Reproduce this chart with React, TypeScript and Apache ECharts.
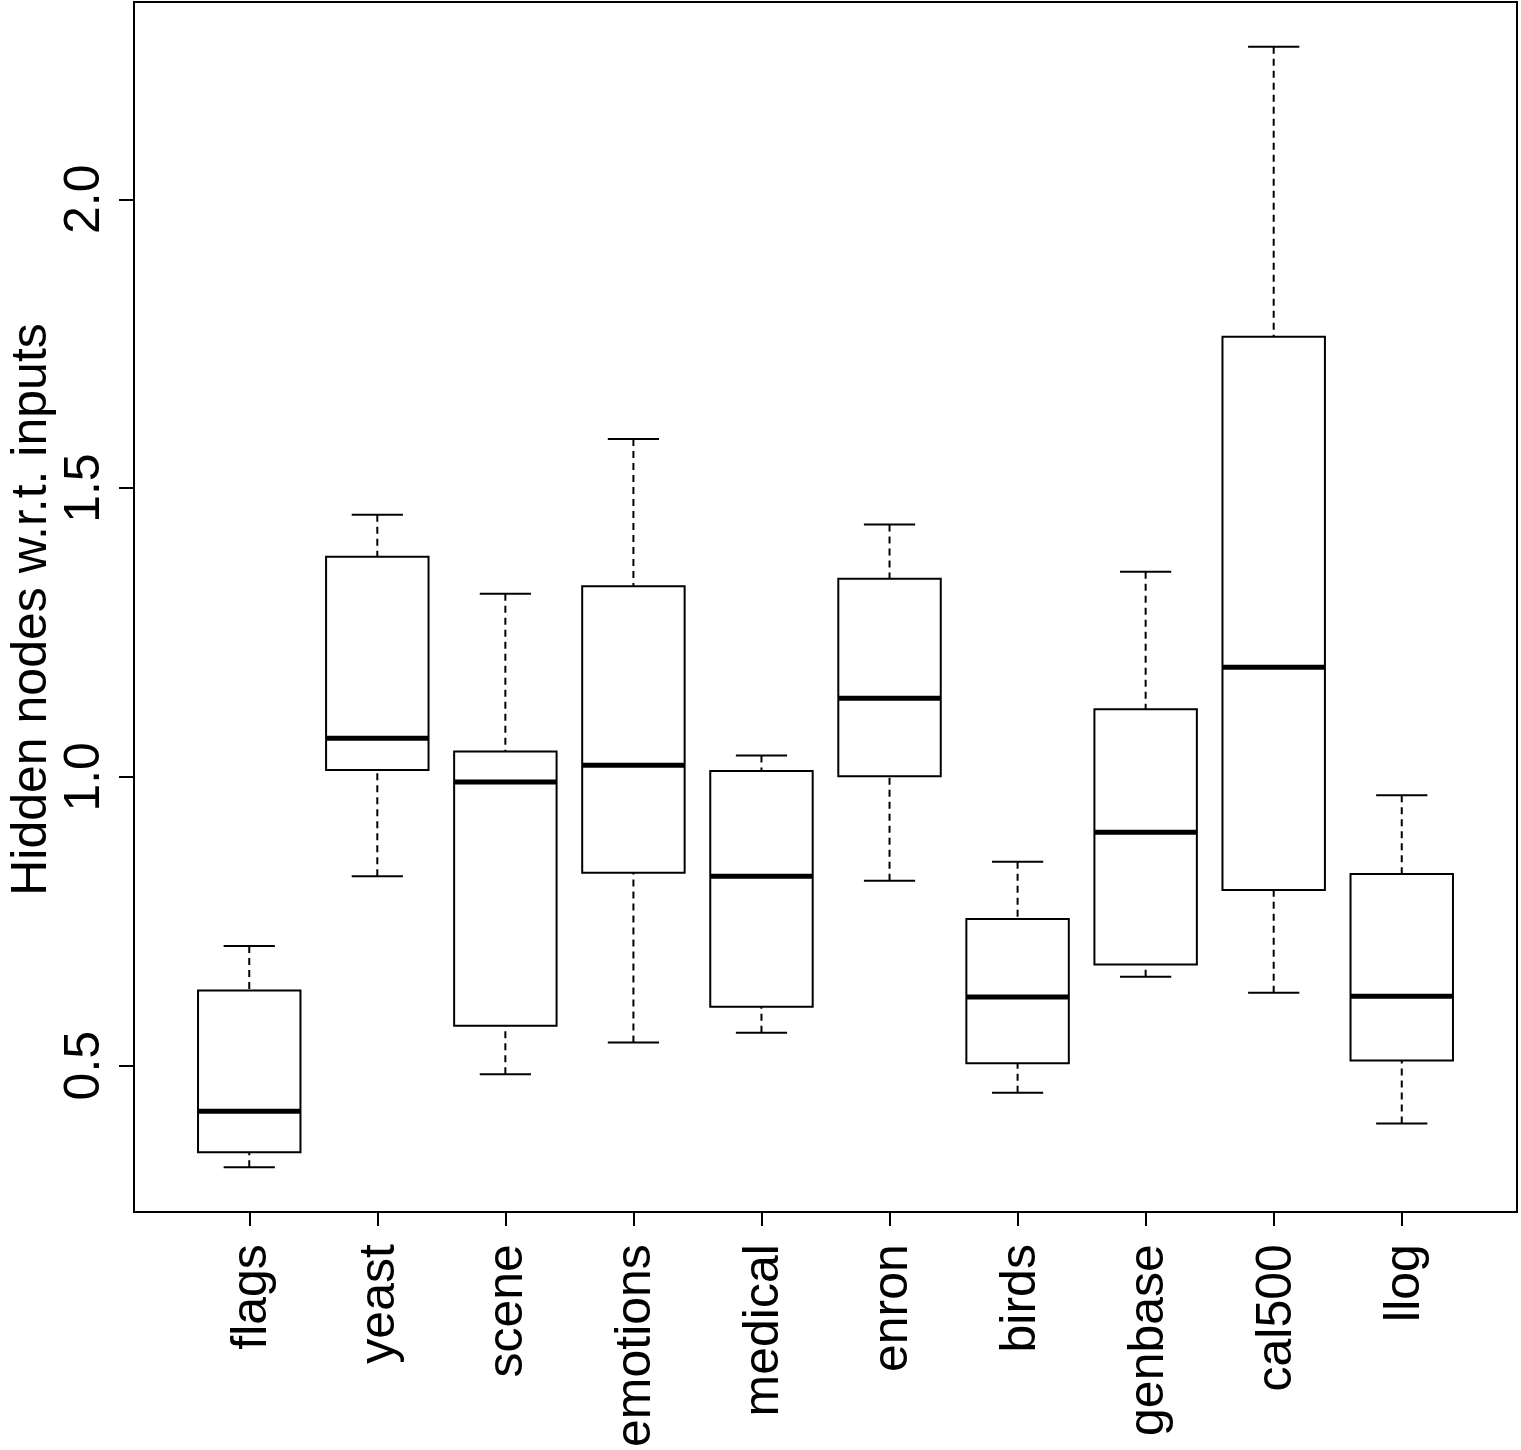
import React, { useEffect, useRef } from "react";
import * as echarts from "echarts";

// Hidden-node ratio per multi-label dataset: five-number summaries
const datasets = ["flags", "yeast", "scene", "emotions", "medical", "enron", "birds", "genbase", "cal500", "llog"];
const whiskerLow = [0.324, 0.828, 0.485, 0.540, 0.557, 0.820, 0.453, 0.654, 0.626, 0.400];
const hingeLow = [0.350, 1.012, 0.569, 0.834, 0.602, 1.001, 0.504, 0.675, 0.804, 0.509];
const medians = [0.421, 1.067, 0.991, 1.020, 0.828, 1.136, 0.619, 0.904, 1.190, 0.620];
const hingeHigh = [0.630, 1.381, 1.044, 1.330, 1.010, 1.343, 0.754, 1.117, 1.762, 0.832];
const whiskerHigh = [0.707, 1.454, 1.317, 1.585, 1.037, 1.437, 0.853, 1.355, 2.264, 0.968];
const yTicks = [0.5, 1.0, 1.5, 2.0];
const yTitle = "Hidden nodes w.r.t. inputs";

const FONT = "'Liberation Sans', Arial, Helvetica, sans-serif";
const FONT_SIZE = 50;

// pad a range by 4% on each side, like the usual statistical plotting default
function padRange(lo: number, hi: number): [number, number] {
  const d = (hi - lo) * 0.04;
  return [lo - d, hi + d];
}

export default function App() {
  const ref = useRef<HTMLDivElement>(null);

  useEffect(() => {
    if (!ref.current) return;
    const chart = echarts.init(ref.current, null, { renderer: "svg" });

    const n = datasets.length;
    const [yMin, yMax] = padRange(Math.min(...whiskerLow), Math.max(...whiskerHigh));
    const [xMin, xMax] = padRange(0.5, n + 0.5);
    const positions = datasets.map((_, i) => i + 1);

    const data = datasets.map((_, i) => [
      i + 1,
      whiskerLow[i],
      hingeLow[i],
      medians[i],
      hingeHigh[i],
      whiskerHigh[i],
    ]);

    const black = "#000";

    const option: any = {
      animation: false,
      backgroundColor: "#fff",
      textStyle: { fontFamily: FONT },
      grid: {
        left: 134,
        right: 4,
        top: 2,
        bottom: 233,
        show: true,
        borderColor: black,
        borderWidth: 2,
        backgroundColor: "transparent",
      },
      xAxis: {
        type: "value",
        min: xMin,
        max: xMax,
        axisLine: { show: false },
        splitLine: { show: false },
        axisTick: {
          show: true,
          inside: false,
          length: 14,
          customValues: positions,
          lineStyle: { color: black, width: 2 },
        },
        axisLabel: {
          show: true,
          rotate: 90,
          margin: 32,
          customValues: positions,
          formatter: (v: number) => datasets[Math.round(v) - 1] ?? "",
          color: black,
          fontSize: FONT_SIZE,
          fontFamily: FONT,
        },
      },
      yAxis: {
        type: "value",
        min: yMin,
        max: yMax,
        axisLine: { show: false },
        splitLine: { show: false },
        axisTick: {
          show: true,
          inside: false,
          length: 15,
          customValues: yTicks,
          lineStyle: { color: black, width: 2 },
        },
        axisLabel: {
          show: true,
          rotate: 90,
          margin: 27,
          customValues: yTicks,
          formatter: (v: number) => v.toFixed(1),
          color: black,
          fontSize: FONT_SIZE,
          fontFamily: FONT,
        },
      },
      graphic: [
        {
          type: "text",
          x: 29,
          y: 609.5,
          rotation: Math.PI / 2,
          style: {
            text: yTitle,
            fontSize: FONT_SIZE,
            fontFamily: FONT,
            fill: black,
            align: "center",
            verticalAlign: "middle",
          },
        },
      ],
      series: [
        {
          type: "custom",
          data,
          encode: { x: 0, y: [1, 2, 3, 4, 5] },
          renderItem: (_params: any, api: any) => {
            const x = api.value(0);
            const pLow = api.coord([x, api.value(1)]);
            const pQ1 = api.coord([x, api.value(2)]);
            const pMed = api.coord([x, api.value(3)]);
            const pQ3 = api.coord([x, api.value(4)]);
            const pHigh = api.coord([x, api.value(5)]);
            const unit = api.size([1, 0])[0];
            const halfBox = unit * 0.4;
            const halfCap = unit * 0.2;
            const cx = pLow[0];
            const solid = { stroke: black, lineWidth: 2, fill: "none" };
            const dashed = { stroke: black, lineWidth: 2, lineDash: [7, 5], fill: "none" };
            return {
              type: "group",
              children: [
                // whiskers
                { type: "line", shape: { x1: cx, y1: pHigh[1], x2: cx, y2: pQ3[1] }, style: dashed },
                { type: "line", shape: { x1: cx, y1: pLow[1], x2: cx, y2: pQ1[1] }, style: dashed },
                // staples
                { type: "line", shape: { x1: cx - halfCap, y1: pHigh[1], x2: cx + halfCap, y2: pHigh[1] }, style: solid },
                { type: "line", shape: { x1: cx - halfCap, y1: pLow[1], x2: cx + halfCap, y2: pLow[1] }, style: solid },
                // box
                {
                  type: "rect",
                  shape: { x: cx - halfBox, y: pQ3[1], width: halfBox * 2, height: pQ1[1] - pQ3[1] },
                  style: { stroke: black, lineWidth: 2, fill: "#fff" },
                },
                // median
                {
                  type: "line",
                  shape: { x1: cx - halfBox, y1: pMed[1], x2: cx + halfBox, y2: pMed[1] },
                  style: { stroke: black, lineWidth: 5 },
                },
              ],
            };
          },
        },
      ],
    };

    chart.setOption(option);
    return () => chart.dispose();
  }, []);

  return (
    <div
      ref={ref}
      style={{ position: "fixed", left: 0, top: 0, width: 1521, height: 1450, background: "#fff" }}
    />
  );
}
